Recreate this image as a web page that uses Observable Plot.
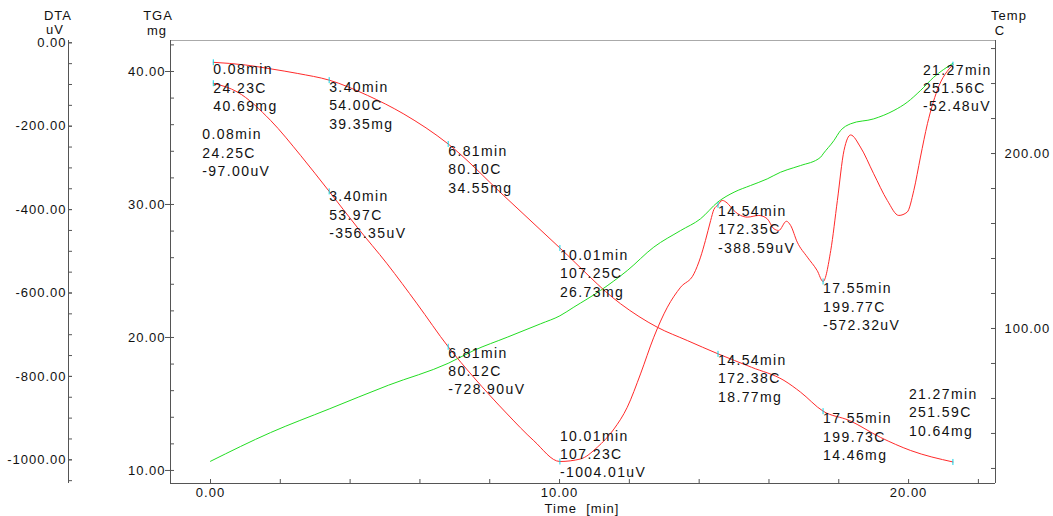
<!DOCTYPE html>
<html><head><meta charset="utf-8">
<script src="https://cdn.jsdelivr.net/npm/d3@7"></script>
<script src="https://cdn.jsdelivr.net/npm/@observablehq/plot@0.6"></script>
<style>
html,body{margin:0;padding:0;background:#fff;}
#wrap{position:relative;width:1053px;height:516px;overflow:hidden;font-family:"Liberation Sans",Arial,sans-serif;}
#wrap svg{position:absolute;left:0;top:0;}
.t{position:absolute;font-size:13px;letter-spacing:1px;color:#111;white-space:pre;transform:translate(-50%,-50%);line-height:1;}
g[aria-label="text"] text{letter-spacing:1.4px;}
g[aria-label$="tick label"] text{letter-spacing:1px;}
</style>
</head><body><div id="wrap"></div>
<script>
// ---- data ----
const timeTGA = [0.08,1.0,1.72,2.5,3.40,4.5,5.54,6.81,8.4,10.01,11.75,12.8,13.66,14.54,15.5,16.43,16.9,17.55,18.3,19.2,20.06,21.27];
const massTGA = [40.69,40.49,40.2,39.85,39.35,38.2,36.8,34.55,30.67,26.73,22.53,20.77,19.77,18.77,17.76,16.77,15.9,14.46,13.76,12.48,11.5,10.64];

const timeDTA = [0.08,0.77,1.72,2.58,3.40,4.2,5.06,5.92,6.81,7.54,8.5,9.26,10.01,10.6,11.08,11.56,11.94,12.32,12.7,13.09,13.47,13.85,14.04,14.18,14.33,14.42,14.54,14.66,14.8,14.99,15.38,15.71,15.95,16.14,16.28,16.5,16.62,16.81,17.1,17.38,17.55,17.77,17.96,18.15,18.34,18.62,19.0,19.39,19.72,19.96,20.15,20.34,20.54,20.82,21.27];
const uvDTA = [-97,-118,-186,-270,-356.35,-442,-530,-626,-728.9,-802,-890,-954,-1004.01,-998,-970,-926,-874,-794,-706,-634,-586,-554,-514,-474,-426,-400,-388.59,-378,-384,-402,-418,-414,-422,-446,-450,-428,-438,-478,-514,-546,-572.32,-498,-378,-258,-221,-250,-314,-378,-414,-406,-354,-274,-194,-114,-52.48];

const timeTemp = [0.0,1.72,3.40,5.1,6.81,7.54,8.5,9.46,10.01,10.41,11.17,11.94,12.7,13.47,14.04,14.54,15.0,15.47,15.95,16.33,16.52,16.9,17.48,17.55,17.86,18.05,18.34,19.0,19.58,19.96,20.34,20.72,21.27];
const tempC = [24.1,40.5,54.0,67.6,80.1,87.4,95.0,102.7,107.25,112.2,121.7,133.1,146.5,156,162.7,172.35,177.9,181.7,185.5,189.3,190.7,193.1,197.9,199.77,207.4,213.1,217,219.8,224.6,229.3,236,243.6,251.56];

// annotated points
const markTimes   = [0.08,3.40,6.81,10.01,14.54,17.55,21.27];
const tgaMarkMass = [40.69,39.35,34.55,26.73,18.77,14.46,10.64];
const tgaMarkTemp = [24.23,54.00,80.10,107.25,172.38,199.73,251.59];
const dtaMarkUV   = [-97.00,-356.35,-728.90,-1004.01,-388.59,-572.32,-52.48];
const dtaMarkTemp = [24.25,53.97,80.12,107.23,172.35,199.77,251.56];

// ticks
const xTicks = [0,10,20];
const tgaTicks = [10,20,30,40];
const dtaTicks = [-1000,-800,-600,-400,-200,0];
const tempTicks = [100,200];

// ---- layout / style ----
const W = 1053, H = 516;
const xDomain = [-1.146, 22.49];
const tgaDomain = [9.02, 42.33];
const dtaDomain = [-1056.8, 5.5];
const tempDomain = [11.4, 264.6];
const RED = "#ff2a2a", GREEN = "#22dd22", CYAN = "#10d4e6", AX = "#555";
const fmt = v => (+v).toFixed(2);
const tgaOff = [[0,8],[0,8],[0,8],[0,8],[0,7],[0,8],[-44,-67]];
const dtaOff = [[-11,52],[0,6],[0,7],[0,-25],[0,7],[0,8],[-30,6]];
const tickSym = {draw(ctx){ctx.moveTo(0,-3);ctx.lineTo(0,3);}};

const common = {
  width: W, height: H, marginLeft: 170, marginRight: 58, marginTop: 40, marginBottom: 33,
  style: {background: "transparent", overflow: "visible", fontFamily: '"Liberation Sans",Arial,sans-serif', fontSize: "13px", color: "#111"}
};

const tgaRows = timeTGA.map((t,i)=>({t, v: massTGA[i]}));
const dtaRows = timeDTA.map((t,i)=>({t, v: uvDTA[i]}));
const tempRows = timeTemp.map((t,i)=>({t, v: tempC[i]}));
const tgaMarks = markTimes.map((t,i)=>({t, v: tgaMarkMass[i], label: `${fmt(t)}min\n${fmt(tgaMarkTemp[i])}C\n${fmt(tgaMarkMass[i])}mg`}));
const dtaMarks = markTimes.map((t,i)=>({t, v: dtaMarkUV[i], label: `${fmt(t)}min\n${fmt(dtaMarkTemp[i])}C\n${fmt(dtaMarkUV[i])}uV`}));

function labels(rows, off) {
  return rows.map((r,i)=>Plot.text([r], {x:"t", y:"v", text:"label", dx: off[i][0], dy: off[i][1]-9,
    textAnchor:"start", lineAnchor:"top", lineHeight:1.31, fontSize:14, fill:"#111"}));
}

// Temperature plot (right axis)
const pTemp = Plot.plot({...common,
  x: {domain: xDomain, axis: null},
  y: {domain: tempDomain, axis: null},
  marks: [
    Plot.axisY(d3.range(20,261,20), {anchor:"right", tickSize:-5, fill:"none", stroke:AX, label:null}),
    Plot.axisY(tempTicks, {anchor:"right", tickSize:-5, tickPadding:14, tickFormat:fmt, stroke:AX, label:null}),
    Plot.line(tempRows, {x:"t", y:"v", stroke:GREEN, strokeWidth:1, curve:"monotone-x"})
  ]
});

// DTA plot (far-left axis)
const pDTA = Plot.plot({...common,
  x: {domain: xDomain, axis: null},
  y: {domain: dtaDomain, axis: null},
  marks: [
    Plot.ruleX([xDomain[0]], {dx:-102, stroke:AX}),
    Plot.axisY(d3.range(-1050,1,50), {anchor:"left", dx:-102, tickSize:-4, fill:"none", stroke:AX, label:null}),
    Plot.axisY(dtaTicks, {anchor:"left", dx:-102, tickSize:-4, tickPadding:6, tickFormat:fmt, stroke:AX, label:null}),
    Plot.line(dtaRows, {x:"t", y:"v", stroke:RED, strokeWidth:1, curve:"monotone-x"}),
    Plot.dot(dtaMarks, {x:"t", y:"v", symbol:tickSym, r:3, stroke:CYAN, fill:"none", strokeWidth:1}),
    ...labels(dtaMarks, dtaOff)
  ]
});

// TGA plot (frame, x axis, left axis)
const pTGA = Plot.plot({...common,
  x: {domain: xDomain, axis: null},
  y: {domain: tgaDomain, axis: null},
  marks: [
    Plot.ruleY([tgaDomain[1]], {stroke:"#aaa"}),
    Plot.ruleX(xDomain, {stroke:AX}),
    Plot.ruleY([tgaDomain[0]], {stroke:AX}),
    Plot.axisX(d3.range(0,23,2), {anchor:"bottom", tickSize:-4, fill:"none", stroke:AX, label:null}),
    Plot.axisX(xTicks, {anchor:"bottom", tickSize:0, tickPadding:4, tickFormat:fmt, label:null}),
    Plot.axisY(d3.range(10,43,2), {anchor:"left", tickSize:-4, fill:"none", stroke:AX, label:null}),
    Plot.axisY(tgaTicks, {anchor:"left", tickSize:5, tickPadding:0, tickFormat:fmt, stroke:AX, label:null}),
    Plot.line(tgaRows, {x:"t", y:"v", stroke:RED, strokeWidth:1, curve:"monotone-x"}),
    Plot.dot(tgaMarks, {x:"t", y:"v", symbol:tickSym, r:3, stroke:CYAN, fill:"none", strokeWidth:1}),
    ...labels(tgaMarks, tgaOff)
  ]
});

const wrap = document.getElementById("wrap");
wrap.append(pTemp, pDTA, pTGA);
const titles = [["DTA",58,15],["uV",55,29],["TGA",158,15],["mg",157,30],["Temp",1009,15],["C",1000,30],["Time  [min]",582,508]];
for (const [s,x,y] of titles) {
  const d = document.createElement("div");
  d.className = "t"; d.textContent = s; d.style.left = x+"px"; d.style.top = y+"px";
  wrap.append(d);
}
</script></body></html>
